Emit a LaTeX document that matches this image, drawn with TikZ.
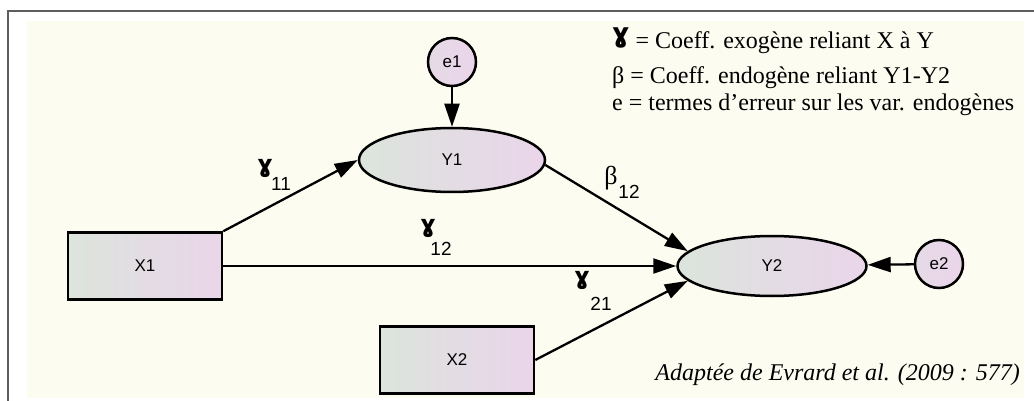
\documentclass[tikz,border=0pt]{standalone}
\usepackage{fontspec}
\setmainfont{Liberation Serif}
\setsansfont{Liberation Sans}
\newfontfamily\gammafont{DejaVu Sans}
\usetikzlibrary{arrows.meta,shapes.geometric}
\definecolor{panelbg}{HTML}{FDFCF0}
\definecolor{frameline}{HTML}{5E5E5E}
\definecolor{shadeleft}{HTML}{DCE4DC}
\definecolor{shaderight}{HTML}{EAD5EA}

\begin{document}
\begin{tikzpicture}[x=1pt, y=-1pt, >={Triangle[length=23pt,width=15pt]},
  varbox/.style={draw, line width=2.5pt, left color=shadeleft, right color=shaderight,
    minimum width=154pt, minimum height=67pt, inner sep=0pt, font=\sffamily\fontsize{17}{19}\selectfont},
  latent/.style={ellipse, draw, line width=2.5pt, left color=shadeleft, right color=shaderight,
    inner sep=0pt, font=\sffamily\fontsize{17}{19}\selectfont},
  errterm/.style={circle, draw, line width=2.5pt, left color=shaderight!70!shadeleft, right color=shaderight,
    minimum size=48pt, inner sep=0pt, font=\sffamily\fontsize{17}{19}\selectfont},
  link/.style={->, line width=2.3pt},
  coef/.style={inner sep=0pt, font=\gammafont\bfseries\fontsize{24}{24}\selectfont},
  idx/.style={inner sep=0pt, font=\sffamily\fontsize{19}{19}\selectfont},
  legend/.style={inner sep=0pt, anchor=base west, font=\fontsize{24}{24}\selectfont}]
  \useasboundingbox (0,0) rectangle (1034,401);
  \fill[panelbg] (27,21) rectangle (1024,398);
  \draw[frameline, line width=2pt] (1034,11) -- (8,11) -- (8,401);

  % variables
  \node[errterm] (e1) at (452,62) {e1};
  \node[latent, minimum width=186pt, minimum height=64pt] (Y1) at (452,160) {Y1};
  \node[varbox] (X1) at (145,266) {X1};
  \node[varbox] (X2) at (457,360) {X2};
  \node[latent, minimum width=189pt, minimum height=60pt] (Y2) at (772,266) {Y2};
  \node[errterm] (e2) at (939,264) {e2};

  % paths
  \draw[link] (e1) -- (Y1);
  \draw[link] (X1.north east) -- (Y1.west);
  \draw[link] (X1) -- (Y2);
  \draw[link] (X2.east) -- (Y2.190);
  \draw[link] (Y1.357) -- (Y2.170);
  \draw[link] (e2) -- (Y2);

  % coefficients
  \node[coef] (g11) at (265,168) {ɣ};
  \node[idx] (i11) at (281,184) {11};
  \node[inner sep=0pt, font=\fontsize{26}{26}\selectfont] (b12) at (611,178) {β};
  \node[idx] (i12b) at (629,192) {12};
  \node[coef] (g12) at (428,228) {ɣ};
  \node[idx] (i12) at (441,249) {12};
  \node[coef] (g21) at (582,280) {ɣ};
  \node[idx] (i21) at (601,304) {21};

  % legend
  \node[legend] (l1) at (612,49) {\raisebox{0.28em}{\gammafont\bfseries\fontsize{27}{27}\selectfont ɣ} = Coeff. exogène reliant X à Y};
  \node[legend] (l2) at (612,84) {β = Coeff. endogène reliant Y1-Y2};
  \node[legend] (l3) at (612,111) {e = termes d’erreur sur les var. endogènes};
  \node[legend, anchor=base east, font=\fontsize{24}{24}\selectfont\itshape] (src) at (1020,380)
    {Adaptée de Evrard et al. (2009 : 577)};
\end{tikzpicture}
\end{document}
